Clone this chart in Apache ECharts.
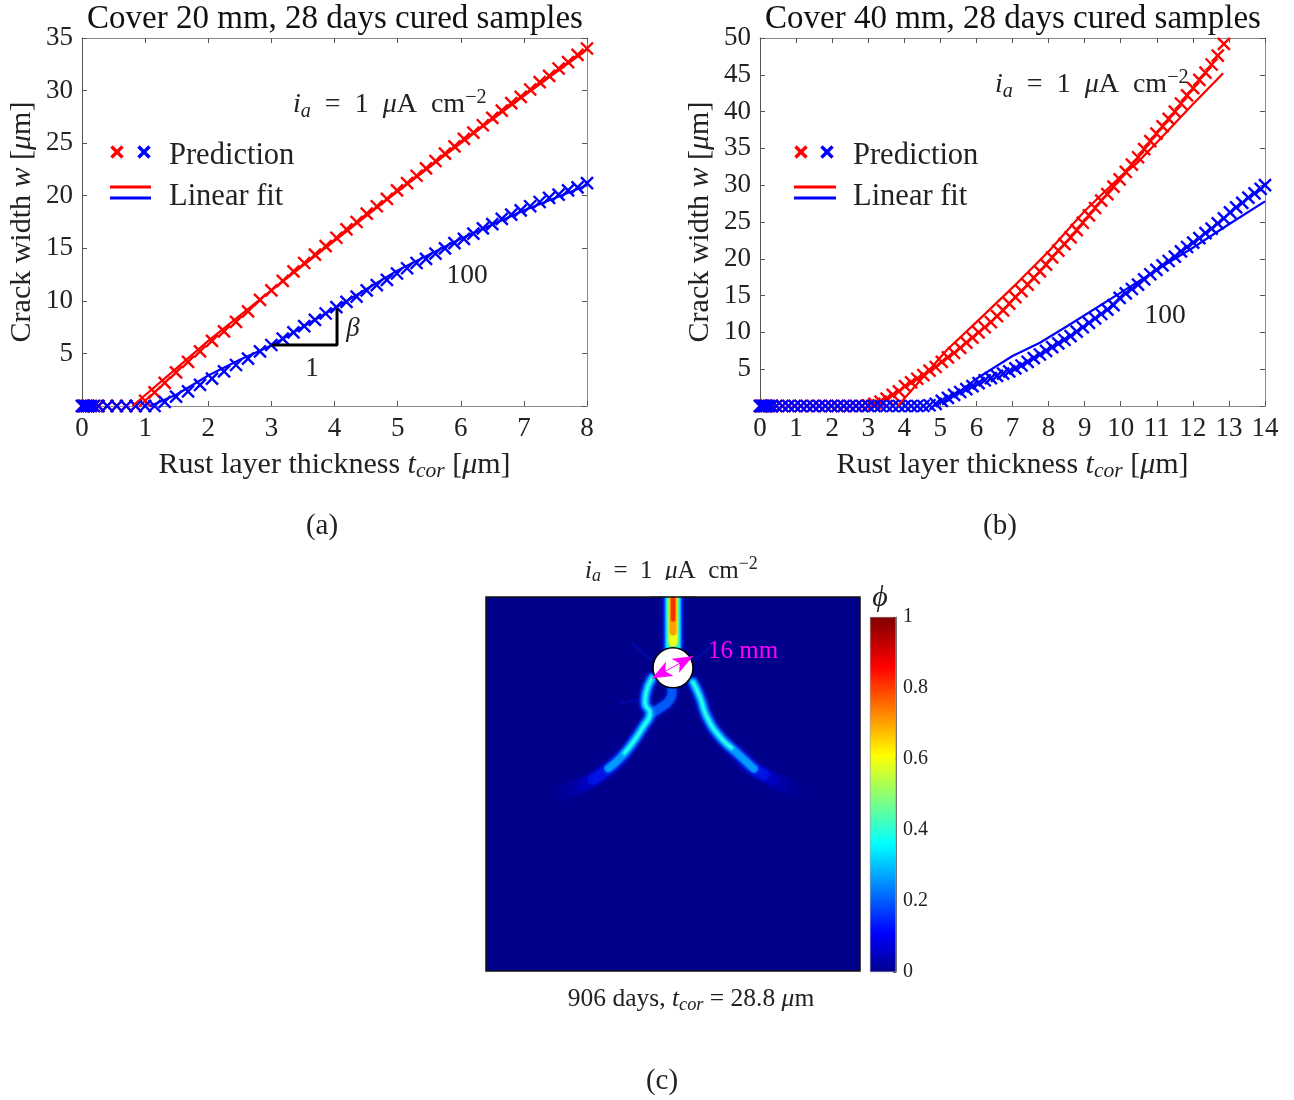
<!DOCTYPE html>
<html><head><meta charset="utf-8">
<script src="https://cdn.jsdelivr.net/npm/echarts@6/dist/echarts.min.js"></script>
<style>html,body{margin:0;padding:0;background:#fff}#c{width:1294px;height:1100px}</style>
</head><body><div id="c"></div>
<script>
// ---------- panel (a) ----------
const tCorA = [0,.02,.04,.07,.1,.14,.19,.26,.4,.55,.7,.85,1,1.15,1.31,1.49,1.68,1.87,2.06,2.25,2.44,2.63,2.82,3,3.18,3.35,3.52,3.69,3.86,4.03,4.19,4.35,4.51,4.67,4.83,4.99,5.15,5.3,5.45,5.6,5.75,5.9,6.05,6.2,6.35,6.5,6.65,6.8,6.95,7.1,7.25,7.4,7.55,7.7,7.85,8];
const predRedA = [0,0,0,0,0,0,0,0,0,0,0,0,.5,1.3,2.2,3.2,4.2,5.2,6.2,7.1,8,9,10.1,11,11.9,12.8,13.6,14.4,15.2,16,16.8,17.5,18.3,19,19.7,20.5,21.2,21.9,22.6,23.3,24,24.7,25.4,26,26.7,27.4,28.1,28.8,29.4,30.1,30.8,31.4,32.1,32.7,33.4,34];
const predBlueA = [0,0,0,0,0,0,0,0,0,0,0,0,0,0,.4,.9,1.4,2,2.6,3.3,3.9,4.5,5.2,5.8,6.4,7,7.6,8.2,8.8,9.4,9.9,10.4,11,11.5,12,12.6,13.1,13.6,14,14.5,15,15.5,15.9,16.4,16.9,17.3,17.8,18.2,18.6,19,19.4,19.8,20.1,20.5,20.8,21.2];
const fitRedA = [[.8,0],[1.5,3.6],[2,6.2],[3,11],[4,15.7],[5,20.4],[6,25],[7,29.5],[8,33.9]];
const fitBlueA = [[1.08,0],[1.5,1.1],[2,2.9],[2.5,4.4],[3,5.75],[4,9.3],[5,12.9],[6,15.9],[7,18.6],[8,21]];
const slopeTriangle = [[3,5.8],[4.04,5.8],[4.04,9.3]];
// ---------- panel (b) ----------
const tCorB = [0,.03,.06,.1,.14,.19,.25,.32,.45,.62,.79,.96,1.13,1.3,1.47,1.64,1.81,1.98,2.15,2.32,2.49,2.66,2.83,3,3.17,3.34,3.51,3.68,3.85,4.02,4.19,4.36,4.53,4.7,4.87,5.04,5.21,5.38,5.55,5.72,5.89,6.06,6.23,6.4,6.57,6.74,6.91,7.08,7.25,7.42,7.59,7.76,7.93,8.1,8.27,8.44,8.61,8.78,8.95,9.12,9.29,9.46,9.63,9.8,9.97,10.14,10.31,10.48,10.65,10.82,10.99,11.16,11.33,11.5,11.67,11.84,12.01,12.18,12.35,12.52,12.69,12.86,13.03,13.2,13.37,13.54,13.71,13.88,14];
const predRedB = [0,0,0,0,0,0,0,0,0,0,0,0,0,0,0,0,0,0,0,0,0,0,0,.1,.3,.6,1,1.5,2,2.7,3.2,3.7,4.2,4.8,5.3,6,6.6,7.2,7.9,8.6,9.3,10,10.7,11.4,12.2,13,13.9,14.8,15.6,16.5,17.4,18.3,19.2,20.2,21.1,22,22.9,23.9,24.9,25.9,26.9,27.9,28.8,29.8,30.8,31.8,32.8,33.8,34.9,36,37,38,39,40,41.1,42.2,43.2,44.3,45.3,46.4,47.6,49.2];
const predBlueB = [0,0,0,0,0,0,0,0,0,0,0,0,0,0,0,0,0,0,0,0,0,0,0,0,0,0,0,0,0,0,0,0,0,.1,.3,.7,1.1,1.5,1.9,2.3,2.7,3.1,3.5,3.8,4.1,4.4,4.7,5.1,5.5,6,6.5,7,7.5,8,8.5,9,9.5,10.1,10.7,11.3,11.9,12.5,13.1,13.7,14.7,15.3,15.9,16.5,17.2,17.9,18.5,19.1,19.7,20.3,21,21.6,22.2,22.8,23.5,24.1,24.8,25.5,26.3,27,27.6,28.3,28.9,29.5,30];
const fitRedB = [[3.82,0],[5.18,7.6],[6,11.4],[7.13,16.7],[8,21],[9,26.5],[10,31.2],[10.45,33],[11,35.8],[12,41],[12.84,45.2]];
const fitBlueB = [[5.05,0.2],[6,3.7],[7,6.8],[7.76,8.6],[8.5,10.8],[10,15.4],[11,18.5],[12,21.5],[13,24.7],[14,27.8]];
// ---------- panel (c): crack ridges in mm from the top-left corner of the sample ----------
const sampleSize = 150;
const crackTop = [[75,0],[75,21]];
const crackTopGreen = [[75,0],[75,20]];
const crackTopYellow = [[75,0],[75,18]];
const crackTopOrange = [[75,0],[75,14]];
const crackTopRed = [[75,0],[75,9]];
const branchLeftFade = [[53.8,64.6],[46.9,70.6],[40.5,74.6],[33.7,77.4],[31,78.4]];
const branchLeftTail = [[53.8,64.6],[46.9,70.6],[40.5,74.6],[35.5,76.7]];
const branchLeftOuter = [[66.6,32.5],[64.2,38.5],[63.8,42.5],[65.8,46.5],[63,52.1],[59,58.2],[53.8,64.6],[46.9,70.6],[39,75.3]];
const branchLeft = [[66.6,32.5],[64.2,38.5],[63.8,42.5],[65.8,46.5],[63,52.1],[59,58.2],[53.8,64.6],[46.9,70.6],[43,73.2]];
const branchLeftBright = [[66.6,32.5],[64.2,38.5],[63.8,42.5],[65.8,46.5],[63,52.1],[59,58.2],[53.8,64.6],[49,68.8]];
const branchLeftCore = [[66.6,32.5],[64.2,38.5],[63.8,42.5],[65.8,46.5],[63,52.1],[59,58.2],[55.5,62.6]];
const loopInner = [[74.6,36],[74.6,38.1],[73,42.1],[69.8,44.5],[66.6,46.5]];
const branchRightFade = [[100.7,62.6],[107.1,68.6],[113.9,72.6],[120.7,76.2],[123,77.4]];
const branchRightTail = [[100.7,62.6],[107.1,68.6],[113.9,72.6],[118.5,75.2]];
const branchRightOuter = [[83,34.1],[85.8,40.1],[88.6,48.1],[93.9,56.2],[100.7,62.6],[107.1,68.6],[115,73.2]];
const branchRight = [[83,34.1],[85.8,40.1],[88.6,48.1],[93.9,56.2],[100.7,62.6],[107.1,68.6],[111.5,71.2]];
const branchRightBright = [[83,34.1],[85.8,40.1],[88.6,48.1],[93.9,56.2],[100.7,62.6],[107.5,68.9]];
const branchRightCore = [[83,34.1],[85.8,40.1],[88.6,48.1],[93.9,56.2],[98.5,60.5]];
const fringeA = [[59,19],[66,25]];
const fringeB = [[84,25],[90,20]];
const fringeC = [[54,42.5],[63,41]];
const rebarCentre = [[75,28.4]];
const rebarArrow = [[66.6,32.6],[83,23.8]];

const serif = '"Liberation Serif","DejaVu Serif",serif';
const ink = '#222';
const rich = s => ({
  n:{fontFamily:serif,fontSize:s,color:ink},
  i:{fontFamily:serif,fontSize:s,fontStyle:'italic',color:ink},
  sub:{fontFamily:serif,fontSize:s*0.72,fontStyle:'italic',color:ink,padding:[s*0.45,0,0,0]},
  sup:{fontFamily:serif,fontSize:s*0.72,color:ink,padding:[0,0,s*0.5,0]}
});
const tcor = '{i|t}{sub|cor}';
const xName = '{n|Rust layer thickness }'+tcor+'{n| [}{i|μ}{n|m]}';
const yName = '{n|Crack width }{i|w}{n| [}{i|μ}{n|m]}';
const iaText = '{i|i}{sub|a}{n|  =  1  }{i|μ}{n|A  cm}{sup|−2}';

function frameAxes(gi, max, interval, kind, fmt){
  const common = {type:'value',gridIndex:gi,min:0,max,interval,splitLine:{show:false},
    axisTick:{show:true,inside:true,length:5,lineStyle:{color:'#555',width:1}}};
  const pos = kind==='x'?['bottom','top']:['left','right'];
  return [
    Object.assign({},common,{position:pos[0],
      axisLine:{show:true,onZero:false,lineStyle:{color:kind==='x'?'#8a8a8a':'#555',width:1}},
      axisLabel:{show:true,fontFamily:serif,fontSize:27,color:ink,margin:kind==='x'?9:9,hideOverlap:false,showMinLabel:true,showMaxLabel:true,formatter:fmt},
      name:kind==='x'?xName:yName,nameLocation:'middle',nameGap:kind==='x'?41:45,
      nameTextStyle:{rich:rich(30)}}),
    Object.assign({},common,{position:pos[1],
      axisLine:{show:true,onZero:false,lineStyle:{color:'#8a8a8a',width:1}},axisLabel:{show:false}})
  ];
}
const hideZero = v => v===0?'':String(v);
const cross = 'path://M0 0L10 10M10 0L0 10';
const RED='#ff0000', BLUE='#0000ff';
function crosses(name,xs,ys,color,xi,yi){
  return {type:'scatter',name,xAxisIndex:xi,yAxisIndex:yi,clip:false,symbol:cross,symbolSize:12,
    itemStyle:{color:'none',borderColor:color,borderWidth:2.4,opacity:1},
    data:ys.map((y,i)=>[xs[i],y])};
}
function fit(name,pts,color,xi,yi,w){
  return {type:'line',name,xAxisIndex:xi,yAxisIndex:yi,showSymbol:false,symbol:'none',clip:false,
    lineStyle:{color,width:w||2.2},data:pts};
}
function field(pts,color,width,blur){
  return {type:'line',xAxisIndex:4,yAxisIndex:4,symbol:'none',showSymbol:false,smooth:0.5,clip:true,silent:true,
    lineStyle:{color,width,cap:'round',join:'round',shadowBlur:blur,shadowColor:color},data:pts};
}
const fieldSeries = [];
[fringeA,fringeB,fringeC].forEach(p=>fieldSeries.push(field(p,'rgba(0,30,255,0.22)',3,10)));
[branchLeftFade,branchRightFade].forEach(p=>fieldSeries.push(field(p,'rgba(0,0,255,0.1)',18,10)));
[branchLeftTail,branchRightTail].forEach(p=>fieldSeries.push(field(p,'rgba(0,0,255,0.14)',15,9)));
[branchLeftOuter,branchRightOuter].forEach(p=>fieldSeries.push(field(p,'rgba(0,0,255,0.22)',13,8)));
[branchLeft,branchRight,loopInner].forEach(p=>fieldSeries.push(field(p,'rgba(0,30,255,0.5)',11,7)));
[branchLeftBright,branchRightBright,loopInner].forEach(p=>fieldSeries.push(field(p,'rgba(0,110,255,0.65)',8.5,5)));
[branchLeftBright,branchRightBright].forEach(p=>fieldSeries.push(field(p,'rgba(0,170,255,0.7)',6.5,4)));
[branchLeftCore,branchRightCore].forEach(p=>fieldSeries.push(field(p,'rgba(0,225,255,0.75)',4.5,4)));
[branchLeftCore,branchRightCore].forEach(p=>fieldSeries.push(field(p,'rgba(60,255,230,0.8)',2,3)));
fieldSeries.push(field(crackTop,'#0020ff',19,4));
fieldSeries.push(field(crackTop,'#0090ff',16,2));
fieldSeries.push(field(crackTop,'#00e0ff',14,2));
fieldSeries.push(field(crackTopGreen,'#40ffb0',11,2));
fieldSeries.push(field(crackTopYellow,'#e8ff20',8.5,2));
fieldSeries.push(field(crackTopOrange,'#ffa000',6.5,2));
fieldSeries.push(field(crackTopRed,'#ff3000',4,2));

const legendMark = (x,y,c)=>[
  {type:'line',shape:{x1:x-5.5,y1:y-5.5,x2:x+5.5,y2:y+5.5},style:{stroke:c,lineWidth:3.4}},
  {type:'line',shape:{x1:x-5.5,y1:y+5.5,x2:x+5.5,y2:y-5.5},style:{stroke:c,lineWidth:3.4}}];
const legendLine = (x1,x2,y,c)=>({type:'line',shape:{x1,y1:y,x2,y2:y},style:{stroke:c,lineWidth:3}});
const txt = (x,y,text,size,align,color)=>({type:'text',x,y:y+2,style:{text,rich:rich(size),fontFamily:serif,fontSize:size,fill:color||ink,align:align||'left',verticalAlign:'middle'}});

const option = {
  animation:false,backgroundColor:'#fff',
  title:[
    {text:'Cover 20 mm, 28 days cured samples',left:330,top:-2,textAlign:'center',textStyle:{fontFamily:serif,fontSize:33,fontWeight:'normal',color:'#111'}},
    {text:'Cover 40 mm, 28 days cured samples',left:1008,top:-2,textAlign:'center',textStyle:{fontFamily:serif,fontSize:33,fontWeight:'normal',color:'#111'}}
  ],
  grid:[
    {left:82,top:38,width:505,height:368},
    {left:760,top:38,width:505,height:368},
    {left:486,top:597,width:374,height:374,show:true,backgroundColor:'#00008b',borderColor:'#111',borderWidth:1.5},
    {left:870,top:617,width:26,height:355,show:false}
  ],
  xAxis:[
    ...frameAxes(0,8,1,'x'),
    ...frameAxes(1,14,1,'x'),
    {type:'value',gridIndex:2,min:0,max:sampleSize,show:false},
    {type:'category',gridIndex:3,data:['phi'],show:false}
  ],
  yAxis:[
    ...frameAxes(0,35,5,'y',hideZero),
    ...frameAxes(1,50,5,'y',hideZero),
    {type:'value',gridIndex:2,min:0,max:sampleSize,inverse:true,show:false},
    {type:'value',gridIndex:3,min:0,max:1,interval:0.2,position:'right',splitLine:{show:false},
      axisLine:{show:true,lineStyle:{color:'#777'}},axisTick:{show:true,inside:true,length:3,lineStyle:{color:'#555'}},
      axisLabel:{fontFamily:serif,fontSize:20,color:ink,margin:7,showMinLabel:true,showMaxLabel:true}}
  ],
  series:[
    fit('Linear fit red',fitRedA,RED,0,0),
    fit('Linear fit blue',fitBlueA,BLUE,0,0),
    crosses('Prediction red',tCorA,predRedA,RED,0,0),
    crosses('Prediction blue',tCorA,predBlueA,BLUE,0,0),
    {type:'line',name:'slope',xAxisIndex:0,yAxisIndex:0,symbol:'none',showSymbol:false,clip:false,z:5,lineStyle:{color:'#000',width:3},data:slopeTriangle},
    fit('Linear fit red',fitRedB,RED,2,2),
    fit('Linear fit blue',fitBlueB,BLUE,2,2),
    crosses('Prediction red',tCorB,predRedB,RED,2,2),
    crosses('Prediction blue',tCorB,predBlueB,BLUE,2,2),
    ...fieldSeries,
    {type:'scatter',name:'rebar',xAxisIndex:4,yAxisIndex:4,symbol:'circle',symbolSize:40,z:8,silent:true,
     itemStyle:{color:'#fff',borderColor:'#000',borderWidth:1.5,opacity:1},data:rebarCentre,
     markLine:{z:20,silent:true,animation:false,symbol:['arrow','arrow'],symbolSize:[12,20],label:{show:false},
       lineStyle:{color:'#ff00ff',width:1,type:'solid',opacity:1},
       data:[[{coord:rebarArrow[0]},{coord:rebarArrow[1]}]]}},
    {type:'bar',name:'phi',xAxisIndex:5,yAxisIndex:5,barWidth:'100%',silent:true,
     itemStyle:{color:{type:'linear',x:0,y:1,x2:0,y2:0,colorStops:[
       {offset:0,color:'#00008f'},{offset:.11,color:'#0000ff'},{offset:.36,color:'#00ffff'},{offset:.61,color:'#ffff00'},{offset:.86,color:'#ff0000'},{offset:1,color:'#7f0000'}]},
       borderColor:'#777',borderWidth:0.5},
     data:[1]}
  ],
  graphic:{elements:[
    {type:'rect',z:100,shape:{x:650,y:580,width:46,height:16.5},style:{fill:'#fff'}},
    {type:'line',z:101,shape:{x1:650,y1:597,x2:696,y2:597},style:{stroke:'#111',lineWidth:1.5}},
    txt(293,103,iaText,28), txt(995,83,iaText,28),
    ...legendMark(117,152,RED),...legendMark(144,152,BLUE),
    legendLine(110,151,187,RED),legendLine(110,151,198,BLUE),
    txt(169,154,'Prediction',30.5),txt(169,195,'Linear fit',30.5),
    ...legendMark(801,152,RED),...legendMark(827,152,BLUE),
    legendLine(794,836,187,RED),legendLine(794,836,198,BLUE),
    txt(853,154,'Prediction',30.5),txt(853,195,'Linear fit',30.5),
    txt(467,274,'100',27.5,'center'),txt(1165,314,'100',27.5,'center'),
    txt(312,367,'1',27,'center'),
    txt(353,327,'{i|β}',27,'center'),
    txt(322,524,'(a)',29,'center'),txt(1000,524,'(b)',29,'center'),txt(662,1079,'(c)',29,'center'),
    txt(585,569,iaText,25),
    txt(691,997,'{n|906 days, }'+tcor+'{n| = 28.8 }{i|μ}{n|m}',25.5,'center'),
    txt(708,649,'16 mm',25,'left','#ff00ff'),
    txt(880,596,'{i|ϕ}',30,'center')
  ]}
};
echarts.init(document.getElementById('c'),null,{renderer:'canvas'}).setOption(option);
</script></body></html>
